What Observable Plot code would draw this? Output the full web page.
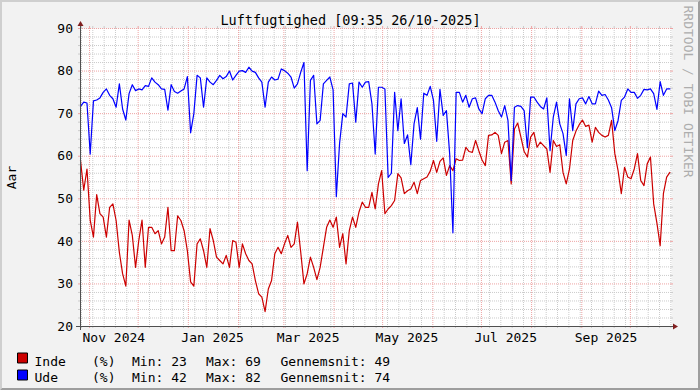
<!DOCTYPE html>
<html><head><meta charset="utf-8">
<script src="https://cdn.jsdelivr.net/npm/d3@7"></script>
<script src="https://cdn.jsdelivr.net/npm/@observablehq/plot@0.6"></script>
<style>
html,body{margin:0;padding:0;background:#f2f2f2;}
#chart{width:700px;height:390px;overflow:hidden;}
</style></head><body><div id="chart"></div>
<script>
const title = "Luftfugtighed [09:35 26/10-2025]";
const yAxisLabel = "Aar";
const watermark = "RRDTOOL / TOBI OETIKER";
const timeStart = "2024-10-26T09:35Z";
const timeEnd = "2025-10-26T09:35Z";
const sampleStepDays = 2;

const seriesNames = ["Inde", "Ude"];
const seriesColors = ["#cc0000", "#0000ff"];
const seriesUnits = ["(%)", "(%)"];
const seriesMin = [23, 42];
const seriesMax = [69, 82];
const seriesAvg = [49, 74];

const inde = [
59.0,52.0,57.0,45.0,41.0,51.0,46.5,45.7,41.0,48.0,
48.8,44.9,37.4,32.4,29.5,45.0,41.4,33.9,40.2,45.0,
33.9,43.3,43.3,41.8,42.5,39.4,41.0,48.0,37.8,37.8,
46.0,44.9,42.5,37.8,30.5,29.5,39.4,40.6,37.8,33.9,
43.0,40.2,36.3,35.5,34.7,36.7,33.9,
40.2,39.8,33.9,
39.4,37.1,35.5,34.7,30.8,27.7,26.9,23.5,28.8,30.8,
37.1,38.6,37.1,39.4,41.4,38.6,39.4,44.5,37.5,30.0,
32.4,36.3,33.9,31.0,33.9,38.6,43.3,45.0,43.3,45.7,
38.6,41.8,34.7,42.5,45.7,43.3,46.9,49.2,48.0,48.0,
51.5,47.6,53.5,
56.6,46.5,47.6,48.4,49.6,55.9,54.9,
51.2,51.9,52.3,53.9,51.2,54.3,54.7,55.1,56.5,59.0,
56.2,58.8,59.6,55.5,57.8,56.6,59.4,59.0,59.1,62.1,
61.1,60.9,63.7,61.3,59.1,57.8,64.9,65.0,65.6,64.9,
60.6,63.3,63.7,53.5,66.4,67.8,64.5,61.1,59.8,
64.5,65.6,62.1,63.3,62.5,61.7,56.2,63.7,62.3,62.7,56.2,
53.5,57.0,63.7,65.9,67.4,68.5,67.0,67.3,63.3,66.8,
65.6,64.9,64.5,64.9,68.4,60.6,56.6,51.2,57.4,55.1,
54.7,57.0,60.6,54.3,53.1,58.2,59.8,48.8,44.3,39.0,
51.2,55.1,56.2
];
const ude = [
71.7,72.7,72.5,60.5,73.0,73.2,73.7,75.0,75.8,74.3,
73.5,71.5,77.0,71.1,68.5,74.7,76.8,75.4,75.8,75.6,
76.6,76.4,78.4,77.4,76.8,75.8,75.7,70.8,76.8,75.2,
74.8,75.3,75.8,78.7,65.5,70.0,79.0,78.4,71.5,78.4,
77.4,76.8,77.8,79.0,78.2,78.7,80.0,
77.9,79.0,80.0,
80.1,79.7,80.9,80.0,79.7,78.4,77.4,71.5,77.4,78.6,
77.9,78.1,80.5,80.1,79.5,78.6,76.0,77.0,79.7,82.0,
56.6,77.8,79.0,67.6,68.4,77.0,77.8,78.6,75.6,50.5,
63.0,70.0,69.2,77.0,77.2,68.0,77.4,76.2,77.4,77.5,
72.3,60.5,76.2,
76.2,75.8,55.0,56.0,75.0,66.0,73.5,
63.0,65.0,58.0,67.6,71.4,64.0,74.8,74.3,76.4,73.1,
63.5,75.7,69.6,70.7,60.5,42.0,75.0,75.0,72.7,74.3,
71.5,73.5,73.7,71.1,70.0,73.5,74.3,74.3,72.7,70.7,
69.2,71.9,68.4,54.3,71.5,71.9,71.7,70.7,62.0,
73.9,73.9,72.7,71.7,71.1,73.7,61.3,69.2,72.7,67.6,65.3,
60.2,73.5,66.0,72.3,73.5,73.7,72.3,74.0,72.3,72.3,
75.3,74.3,74.5,73.2,71.4,66.0,68.4,73.1,73.9,75.8,
75.0,75.0,73.6,74.3,75.7,75.6,75.8,74.7,71.0,77.5,
74.3,75.8,75.8
];

const yTicks = [20, 30, 40, 50, 60, 70, 80, 90];
const yMinorStep = 2;
const xLabelMonths = ["2024-11-01", "2025-01-01", "2025-03-01", "2025-05-01", "2025-07-01", "2025-09-01"];
const xLabels = ["Nov 2024", "Jan 2025", "Mar 2025", "May 2025", "Jul 2025", "Sep 2025"];

const gridColor = "#cbcbcb";
const mgridColor = "#eea3a3";
const axisColor = "#505050";
const arrowColor = "#801f1f";

const t0 = new Date(timeStart), t1 = new Date(timeEnd);
const table = inde.map((v, i) => ({date: d3.utcDay.offset(t0, i * sampleStepDays), inde: v, ude: ude[i]}));
const yMinor = d3.range(yTicks[0], yTicks[yTicks.length - 1] + 1, yMinorStep).filter(v => !yTicks.includes(v));
const months = d3.utcMonth.range(t0, t1);
const weeks = d3.utcSunday.range(t0, t1).filter(d => d.getUTCDate() !== 1);
const xLabelData = xLabelMonths.map((m, i) => ({date: d3.utcDay.offset(new Date(m + "T00:00Z"), 15), label: xLabels[i]}));

function decorations(index, scales, values, dims) {
  const W = dims.width, H = dims.height;
  const X0 = dims.marginLeft, X1 = W - dims.marginRight, Y1 = dims.marginTop, Y0 = H - dims.marginBottom;
  const g = d3.create("svg:g");
  const tk = g.append("g").attr("fill", "none").attr("stroke-width", 1);
  for (const v of yMinor) { const y = scales.y(v) + 0.5; tk.append("path").attr("stroke", gridColor).attr("d", `M${X0-2},${y}H${X0}M${X1},${y}H${X1+2}`); }
  for (const v of yTicks) { const y = scales.y(v) + 0.5; tk.append("path").attr("stroke", mgridColor).attr("d", `M${X0-2},${y}H${X0}M${X1},${y}H${X1+2}`); }
  for (const d of weeks) { const x = scales.x(d) + 0.5; tk.append("path").attr("stroke", gridColor).attr("d", `M${x},${Y1-2}V${Y1}M${x},${Y0}V${Y0+2}`); }
  for (const d of months) { const x = scales.x(d) + 0.5; tk.append("path").attr("stroke", mgridColor).attr("d", `M${x},${Y1-2}V${Y1}M${x},${Y0}V${Y0+2}`); }
  const ax = X0 + 0.5, ay = Y0 + 0.5;
  g.append("path").attr("fill", "none").attr("stroke", axisColor).attr("d", `M${X0-4},${ay}H${X1+4}M${ax},${Y0+4}V${Y1-4}`);
  g.append("path").attr("fill", arrowColor).attr("d", `M${X1+2},${ay-3}L${X1+2},${ay+3}L${X1+7},${ay}Z`);
  g.append("path").attr("fill", arrowColor).attr("d", `M${ax-3},${Y1-2}L${ax+3},${Y1-2}L${ax},${Y1-7}Z`);
  g.append("path").attr("fill", "#cfcfcf").attr("d", `M0,0H${W}L${W-2},2H2V${H-2}L0,${H}Z`);
  g.append("path").attr("fill", "#9e9e9e").attr("d", `M${W},0V${H}H0L2,${H-2}H${W-2}V2Z`);
  return g.node();
}

const fs = 13;
const lh = 16.5 / fs;
const legendCols = [
  {dx: -46, text: seriesNames.join("\n")},
  {dx: 11.5, text: seriesUnits.join("\n")},
  {dx: 51.5, text: seriesMin.map(v => `Min: ${v}`).join("\n")},
  {dx: 125.5, text: seriesMax.map(v => `Max: ${v}`).join("\n")},
  {dx: 200, text: seriesAvg.map(v => `Gennemsnit: ${v}`).join("\n")}
];

const chart = Plot.plot({
  width: 700, height: 390,
  marginLeft: 80, marginRight: 29, marginTop: 28, marginBottom: 64,
  x: {type: "utc", domain: [t0, t1], axis: null},
  y: {domain: [yTicks[0], yTicks[yTicks.length - 1]], axis: null},
  style: {fontFamily: "'DejaVu Sans Mono', monospace", fontSize: fs + "px", background: "#f2f2f2", color: "#000", overflow: "visible"},
  marks: [
    Plot.frame({fill: "#ffffff", stroke: "none"}),
    Plot.ruleY(yMinor, {stroke: gridColor, strokeDasharray: "1,1"}),
    Plot.ruleX(weeks, {stroke: gridColor, strokeDasharray: "1,1"}),
    Plot.ruleY(yTicks.slice(1), {stroke: mgridColor, strokeDasharray: "1,1"}),
    Plot.ruleX(months, {stroke: mgridColor, strokeDasharray: "1,1"}),
    Plot.line(table, {x: "date", y: "inde", stroke: seriesColors[0], strokeWidth: 1.2}),
    Plot.line(table, {x: "date", y: "ude", stroke: seriesColors[1], strokeWidth: 1.2}),
    decorations,
    Plot.text([title], {text: d => d, frameAnchor: "top", dx: -25.5, dy: -8.3, lineAnchor: "middle", fontSize: 13.5}),
    Plot.text(yTicks, {y: d => d, text: d => String(d), frameAnchor: "left", textAnchor: "end", lineAnchor: "middle", dx: -7.5}),
    Plot.text(xLabelData, {x: "date", text: "label", frameAnchor: "bottom", lineAnchor: "top", dy: 6}),
    Plot.text([yAxisLabel], {text: d => d, frameAnchor: "left", rotate: -90, dx: -68.5, textAnchor: "middle", lineAnchor: "middle"}),
    Plot.text([watermark], {text: d => d, frameAnchor: "top-right", rotate: 90, dx: 17, dy: -23, textAnchor: "start", lineAnchor: "middle", fill: "#adadad"}),
    ...legendCols.map(c => Plot.text([c.text], {text: d => d, frameAnchor: "bottom-left", dx: c.dx, dy: 27.6, textAnchor: "start", lineAnchor: "top", lineHeight: lh})),
    ...seriesColors.map((c, i) => Plot.dot([i], {frameAnchor: "bottom-left", dx: -58, dy: 31.5 + i * 17, symbol: "square", r: 5.64, fill: c, stroke: "#000", strokeWidth: 1}))
  ]
});
document.getElementById("chart").appendChild(chart);
</script></body></html>
